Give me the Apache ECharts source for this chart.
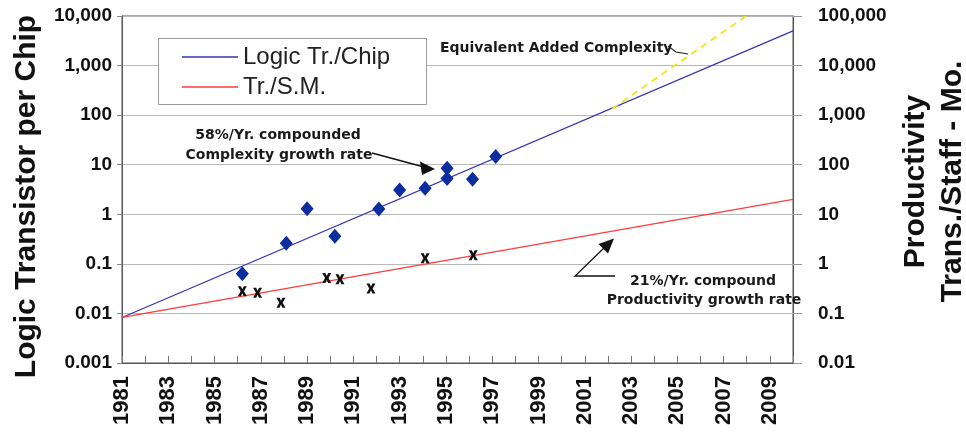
<!DOCTYPE html>
<html>
<head>
<meta charset="utf-8">
<script src="https://cdn.jsdelivr.net/npm/echarts@6/dist/echarts.min.js"></script>
<style>html,body{margin:0;padding:0;background:#fff;}#c{width:966px;height:432px;}</style>
</head>
<body>
<div id="c"></div>
<script>
// ---- data ----
const xTickLabels = ['1981','1983','1985','1987','1989','1991','1993','1995','1997','1999','2001','2003','2005','2007','2009'];
const leftTickLabels = ['0.001','0.01','0.1','1','10','100','1,000','10,000'];
const rightTickLabels = ['0.01','0.1','1','10','100','1,000','10,000','100,000'];
const seriesNames = ['Logic Tr./Chip', 'Tr./S.M.'];

const logicTrendYears = [1981, 2010];
const logicTrendValues = [0.0083, 5000];
const prodTrendYears = [1981, 2010];
const prodTrendValues = [0.083, 20];
const addedYears = [2002.18, 2007.97];
const addedValues = [134, 10000];

const chipYears = [1986.2, 1988.1, 1989.0, 1990.2, 1992.1, 1993.0, 1994.1, 1995.05, 1995.05, 1996.15, 1997.15];
const chipValues = [0.063, 0.26, 1.3, 0.36, 1.28, 3.1, 3.35, 8.5, 5.3, 5.1, 14.7];
const prodYears = [1986.2, 1986.86, 1987.87, 1989.85, 1990.42, 1991.76, 1994.1, 1996.18];
const prodValues = [0.28, 0.26, 0.165, 0.52, 0.49, 0.32, 1.3, 1.5];

const zip = (a, b) => a.map((v, i) => [v, b[i]]);

const FONT = '"Liberation Sans", Arial, Helvetica, sans-serif';
const ANN = 'bold 14px "DejaVu Sans", Verdana, sans-serif';

const chart = echarts.init(document.getElementById('c'), null, {renderer: 'canvas'});

const xMark = 'path://M0,0 L3.4,0 L5,3.1 L6.6,0 L10,0 L6.9,5 L10,10 L6.6,10 L5,6.9 L3.4,10 L0,10 L3.1,5 Z';

chart.setOption({
  animation: false,
  textStyle: {fontFamily: FONT},
  grid: {left: 122, right: 173, top: 16, bottom: 69, show: true, borderColor: '#555', borderWidth: 1, outerBoundsMode: 'none'},
  legend: {
    data: seriesNames,
    orient: 'vertical',
    left: 182, top: 43, padding: 0,
    icon: 'rect', itemWidth: 56, itemHeight: 1.5, itemGap: 2,
    selectedMode: false,
    textStyle: {fontSize: 24, color: '#222', lineHeight: 28, fontFamily: FONT},
    z: 10
  },
  xAxis: {
    type: 'value', min: 1981, max: 2010, interval: 1,
    axisLine: {lineStyle: {color: '#555', width: 1}},
    axisTick: {inside: true, length: 7, lineStyle: {color: '#777'}},
    splitLine: {show: false},
    axisLabel: {
      rotate: 90, margin: 13, fontSize: 22, fontWeight: 'bold', color: '#111',
      formatter: v => { const s = String(Math.round(v)); return xTickLabels.includes(s) ? s : ''; }
    }
  },
  yAxis: [
    {
      type: 'log', logBase: 10, min: 0.001, max: 10000, splitNumber: 7,
      position: 'left',
      name: 'Logic Transistor per Chip', nameLocation: 'middle', nameRotate: 90, nameGap: 80,
      nameTextStyle: {fontSize: 30, fontWeight: 'bold', color: '#111', padding: [0, 14, 0, 0]},
      axisLine: {show: true, lineStyle: {color: '#555'}},
      axisTick: {show: true, length: 5, lineStyle: {color: '#888'}},
      splitLine: {show: true, lineStyle: {color: '#b8b8b8', width: 1}},
      axisLabel: {
        margin: 10, fontSize: 19, fontWeight: 'bold', color: '#111',
        formatter: v => leftTickLabels[Math.round(Math.log10(v)) + 3] || ''
      }
    },
    {
      type: 'log', logBase: 10, min: 0.01, max: 100000, splitNumber: 7,
      position: 'right',
      name: 'Productivity\nTrans./Staff - Mo.', nameLocation: 'middle', nameRotate: 90, nameGap: 102,
      nameTextStyle: {fontSize: 30, fontWeight: 'bold', color: '#111', lineHeight: 37, padding: [0, 0, 0, 16]},
      axisLine: {show: true, lineStyle: {color: '#555'}},
      axisTick: {show: true, length: 9, lineStyle: {color: '#999'}},
      splitLine: {show: false},
      axisLabel: {
        margin: 25, fontSize: 19, fontWeight: 'bold', color: '#111',
        formatter: v => rightTickLabels[Math.round(Math.log10(v)) + 2] || ''
      }
    }
  ],
  graphic: [
    {type: 'rect', z: 5, shape: {x: 158.5, y: 38.5, width: 268, height: 66}, style: {fill: '#fff', stroke: '#999', lineWidth: 1}},
    {type: 'text', z: 6, style: {text: 'Equivalent Added Complexity', x: 440, y: 48, font: ANN, fill: '#1a1a1a', align: 'left', verticalAlign: 'middle'}},
    {type: 'polyline', z: 6, shape: {points: [[668, 46], [676, 52], [688, 54]]}, style: {stroke: '#222', lineWidth: 1.2, fill: null}},
    {type: 'text', z: 6, style: {text: '58%/Yr. compounded', x: 278, y: 135, font: ANN, fill: '#1a1a1a', align: 'center', verticalAlign: 'middle'}},
    {type: 'text', z: 6, style: {text: 'Complexity growth rate', x: 279, y: 155, font: ANN, fill: '#1a1a1a', align: 'center', verticalAlign: 'middle'}},
    {type: 'line', z: 6, shape: {x1: 372, y1: 153, x2: 424, y2: 167}, style: {stroke: '#111', lineWidth: 1.3}},
    {type: 'polygon', z: 6, shape: {points: [[420, 161.5], [422, 175], [435, 169]]}, style: {fill: '#111'}},
    {type: 'text', z: 6, style: {text: '21%/Yr. compound', x: 703, y: 281, font: ANN, fill: '#1a1a1a', align: 'center', verticalAlign: 'middle'}},
    {type: 'text', z: 6, style: {text: 'Productivity growth rate', x: 704, y: 300, font: ANN, fill: '#1a1a1a', align: 'center', verticalAlign: 'middle'}},
    {type: 'polyline', z: 6, shape: {points: [[615, 276], [575, 276], [605, 247]]}, style: {stroke: '#111', lineWidth: 1.3, fill: null}},
    {type: 'polygon', z: 6, shape: {points: [[598.5, 244], [608, 253.5], [614, 238.5]]}, style: {fill: '#111'}}
  ],
  series: [
    {
      name: seriesNames[0], type: 'line', yAxisIndex: 0, data: zip(logicTrendYears, logicTrendValues),
      symbol: 'none', color: '#3636b0', lineStyle: {color: '#3636b0', width: 1.2}, z: 3
    },
    {
      name: seriesNames[1], type: 'line', yAxisIndex: 1, data: zip(prodTrendYears, prodTrendValues),
      symbol: 'none', color: '#ff3b3b', lineStyle: {color: '#ff3b3b', width: 1.2}, z: 3
    },
    {
      name: 'Equivalent Added Complexity', type: 'line', yAxisIndex: 0, data: zip(addedYears, addedValues),
      symbol: 'none', lineStyle: {color: '#f2e600', width: 1.6, type: [7, 5]}, z: 3
    },
    {
      name: 'Logic chips', type: 'scatter', yAxisIndex: 0, data: zip(chipYears, chipValues),
      symbol: 'diamond', symbolSize: [13, 15], itemStyle: {color: '#0b2da0', opacity: 1}, z: 4
    },
    {
      name: 'Productivity points', type: 'scatter', yAxisIndex: 1, data: zip(prodYears, prodValues),
      symbol: xMark, symbolSize: [9, 10], itemStyle: {color: '#111', opacity: 1}, z: 4
    }
  ]
});
</script>
</body>
</html>
